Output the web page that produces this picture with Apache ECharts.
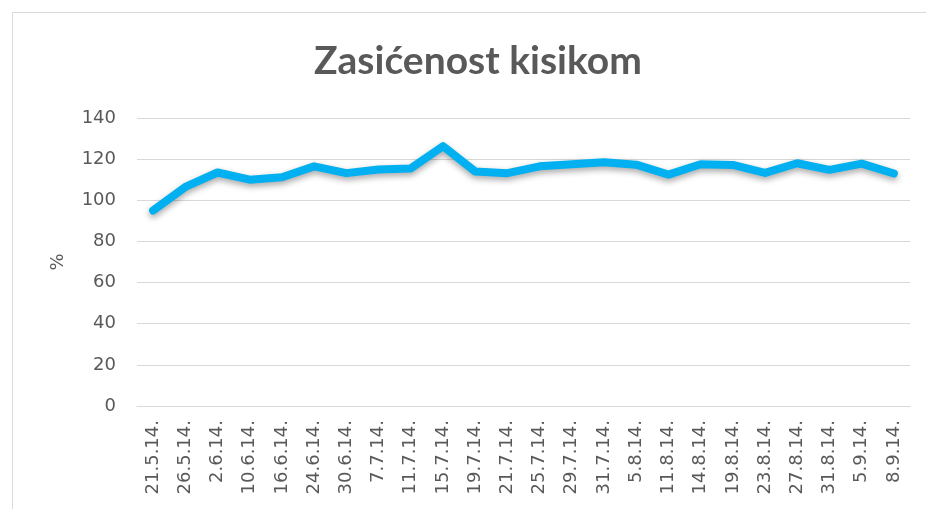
<!DOCTYPE html>
<html>
<head>
<meta charset="utf-8">
<script src="https://cdn.jsdelivr.net/npm/echarts@6/dist/echarts.min.js"></script>
<style>
  html, body { margin: 0; padding: 0; background: #fff; }
  #chart { width: 926px; height: 509px; }
</style>
</head>
<body>
<div id="chart"></div>
<script>
const dates = ['21.5.14.', '26.5.14.', '2.6.14.', '10.6.14.', '16.6.14.', '24.6.14.', '30.6.14.', '7.7.14.',
  '11.7.14.', '15.7.14.', '19.7.14.', '21.7.14.', '25.7.14.', '29.7.14.', '31.7.14.', '5.8.14.',
  '11.8.14.', '14.8.14.', '19.8.14.', '23.8.14.', '27.8.14.', '31.8.14.', '5.9.14.', '8.9.14.'];
const saturation = [95, 106.5, 113.5, 110, 111.2, 116.5, 113.2, 115, 115.5, 126.3, 114, 113.2,
  116.5, 117.5, 118.5, 117.3, 112.5, 117.5, 117.2, 113.3, 118, 114.8, 117.8, 113];
const yTicks = [0, 20, 40, 60, 80, 100, 120, 140];

const myChart = echarts.init(document.getElementById('chart'));
const gray = '#595959';

const option = {
  animation: false,
  title: {
    text: 'Zasićenost kisikom',
    left: 309,
    top: 37,
    textStyle: { fontFamily: 'Lato', fontWeight: 'bold', fontSize: 39, color: gray }
  },
  graphic: [{
    type: 'rect',
    shape: { x: 12.5, y: 12.5, width: 1000, height: 1000 },
    style: { fill: 'none', stroke: '#d9d9d9', lineWidth: 1 }
  }],
  grid: { left: 137, right: 16, top: 118, bottom: 103 },
  xAxis: {
    type: 'category',
    data: dates,
    boundaryGap: true,
    axisLine: { lineStyle: { color: '#d9d9d9' } },
    axisTick: { show: false },
    axisLabel: { rotate: 90, fontFamily: 'DejaVu Sans', fontSize: 18, color: gray, margin: 14 }
  },
  yAxis: {
    type: 'value',
    min: yTicks[0],
    max: yTicks[yTicks.length - 1],
    interval: 20,
    name: '%',
    nameLocation: 'middle',
    nameGap: 70,
    nameTextStyle: { fontFamily: 'DejaVu Sans', fontSize: 18, color: gray },
    axisLine: { show: false },
    axisTick: { show: false },
    splitLine: { lineStyle: { color: '#d9d9d9' } },
    axisLabel: { fontFamily: 'DejaVu Sans', fontSize: 18, color: gray, margin: 21 }
  },
  series: [{
    type: 'line',
    data: saturation,
    symbol: 'none',
    lineStyle: {
      color: '#00B0F0',
      width: 8,
      cap: 'round',
      join: 'round',
      shadowColor: 'rgba(0,0,0,0.35)',
      shadowBlur: 6,
      shadowOffsetY: 3
    }
  }]
};

myChart.setOption(option);
</script>
</body>
</html>
